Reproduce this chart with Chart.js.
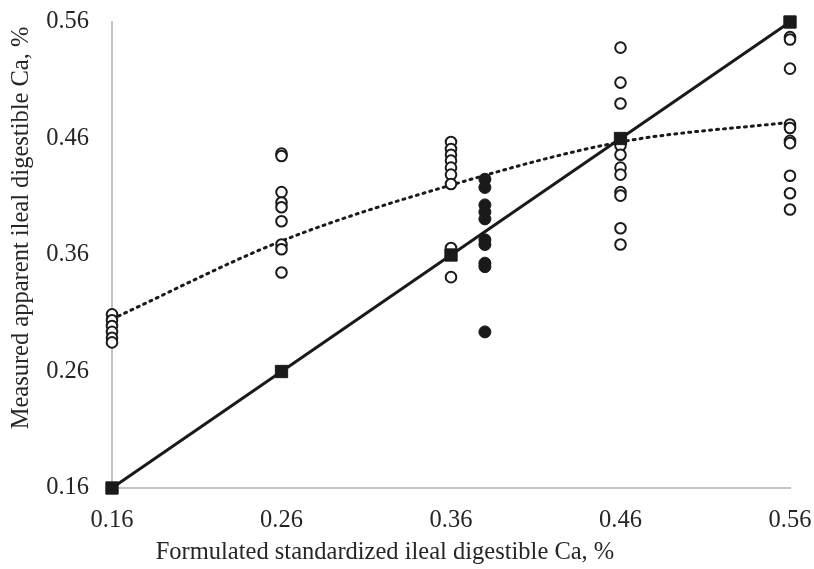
<!DOCTYPE html>
<html lang="en">
<head>
  <meta charset="UTF-8" />
  <title>Measured vs formulated digestible Ca</title>
  <script src="https://cdn.jsdelivr.net/npm/chart.js"></script>
  <style>
    body { margin: 0; background: #fff; }
    #wrap { width: 814px; height: 569px; }
  </style>
</head>
<body>
  <div id="wrap"><canvas id="caChart"></canvas></div>

  <script>
    // tick labels
    const xTicks = [0.16, 0.26, 0.36, 0.46, 0.56];
    const yTicks = [0.16, 0.26, 0.36, 0.46, 0.56];

    // open circles: x level + measured values
    const open016 = [0.309, 0.304, 0.299, 0.294, 0.289, 0.285];
    const open026 = [0.447, 0.445, 0.414, 0.405, 0.401, 0.389, 0.369, 0.365, 0.345];
    const open036 = [0.457, 0.451, 0.446, 0.441, 0.435, 0.429, 0.421, 0.366, 0.341];
    const open046 = [0.538, 0.508, 0.490, 0.454, 0.446, 0.435, 0.429, 0.414, 0.411, 0.383, 0.369];
    const open056 = [0.547, 0.545, 0.520, 0.472, 0.469, 0.458, 0.456, 0.428, 0.413, 0.399];
    // filled circles at 0.38
    const filledX = 0.38;
    const filled038 = [0.425, 0.418, 0.403, 0.397, 0.391, 0.373, 0.369, 0.353, 0.350, 0.294];

    // 1:1 line
    const lineX = [0.16, 0.26, 0.36, 0.46, 0.56];
    const lineY = [0.16, 0.26, 0.36, 0.46, 0.56];

    // dotted trend
    const trendX = [0.16, 0.26, 0.36, 0.46, 0.56];
    const trendY = [0.305, 0.372, 0.420, 0.457, 0.474];

    const xTitle = 'Formulated standardized ileal digestible Ca, %';
    const yTitle = 'Measured apparent ileal digestible Ca, %';

    const pts = (x, ys) => ys.map(y => ({ x: x, y: y }));
    const openPts = [].concat(
      pts(0.16, open016), pts(0.26, open026), pts(0.36, open036),
      pts(0.46, open046), pts(0.56, open056)
    );
    const filledPts = pts(filledX, filled038);
    const linePts = lineX.map((x, i) => ({ x: x, y: lineY[i] }));
    const trendPts = trendX.map((x, i) => ({ x: x, y: trendY[i] }));

    const fontFamily = "'Liberation Serif', 'Times New Roman', serif";
    const font = { family: fontFamily, size: 24.5 };
    const textColor = '#262626';
    const axisColor = '#c4c4c4';

    // axis titles are centred on the whole picture (not on the plot), as in the original
    const axisTitles = {
      id: 'axisTitles',
      afterDraw(chart) {
        const ctx = chart.ctx;
        ctx.save();
        ctx.font = '24.5px ' + fontFamily;
        ctx.fillStyle = textColor;
        ctx.textAlign = 'center';
        ctx.textBaseline = 'middle';
        ctx.fillText(xTitle, 385, 553);
        ctx.translate(22, 228);
        ctx.rotate(-Math.PI / 2);
        ctx.fillText(yTitle, 0, 0);
        ctx.restore();
      }
    };

    new Chart(document.getElementById('caChart'), {
      type: 'scatter',
      data: {
        datasets: [
          {
            label: 'Trend',
            data: trendPts,
            showLine: true,
            borderColor: '#1a1a1a',
            borderWidth: 3,
            borderDash: [2, 5],
            borderCapStyle: 'round',
            cubicInterpolationMode: 'monotone',
            pointRadius: 0,
            order: 3
          },
          {
            label: '1:1',
            data: linePts,
            showLine: true,
            borderColor: '#1a1a1a',
            borderWidth: 3,
            pointStyle: 'rect',
            pointRadius: 8.7,
            pointBackgroundColor: '#1a1a1a',
            pointBorderColor: '#1a1a1a',
            pointBorderWidth: 1,
            order: 1
          },
          {
            label: 'Open',
            data: openPts,
            pointStyle: 'circle',
            pointRadius: 5.3,
            pointBackgroundColor: '#ffffff',
            pointBorderColor: '#1a1a1a',
            pointBorderWidth: 2,
            order: 2
          },
          {
            label: 'Filled',
            data: filledPts,
            pointStyle: 'circle',
            pointRadius: 6,
            pointBackgroundColor: '#1a1a1a',
            pointBorderColor: '#1a1a1a',
            pointBorderWidth: 1,
            order: 2
          }
        ]
      },
      options: {
        responsive: true,
        maintainAspectRatio: false,
        animation: false,
        clip: false,
        layout: { padding: { top: 22, right: 24, left: 0, bottom: 0 } },
        plugins: {
          legend: { display: false },
          tooltip: { enabled: false }
        },
        scales: {
          x: {
            type: 'linear',
            min: 0.16,
            max: 0.56,
            afterBuildTicks: axis => { axis.ticks = xTicks.map(v => ({ value: v })); },
            afterFit: axis => {
              axis.height = 81;
              axis.paddingLeft = 0;
              axis.paddingRight = 0;
            },
            grid: { display: false, drawTicks: false },
            border: { display: true, color: axisColor, width: 2 },
            ticks: {
              color: textColor,
              font: font,
              padding: 18,
              maxRotation: 0,
              callback: v => v.toFixed(2)
            },
            title: { display: false }
          },
          y: {
            type: 'linear',
            min: 0.16,
            max: 0.56,
            afterBuildTicks: axis => { axis.ticks = yTicks.map(v => ({ value: v })); },
            afterFit: axis => {
              axis.width = 112;
              axis.paddingTop = 0;
              axis.paddingBottom = 0;
            },
            grid: { display: false, drawTicks: false },
            border: { display: true, color: axisColor, width: 2 },
            ticks: {
              color: textColor,
              font: font,
              padding: 23,
              callback: v => v.toFixed(2)
            },
            title: { display: false }
          }
        }
      },
      plugins: [axisTitles]
    });
  </script>
</body>
</html>
